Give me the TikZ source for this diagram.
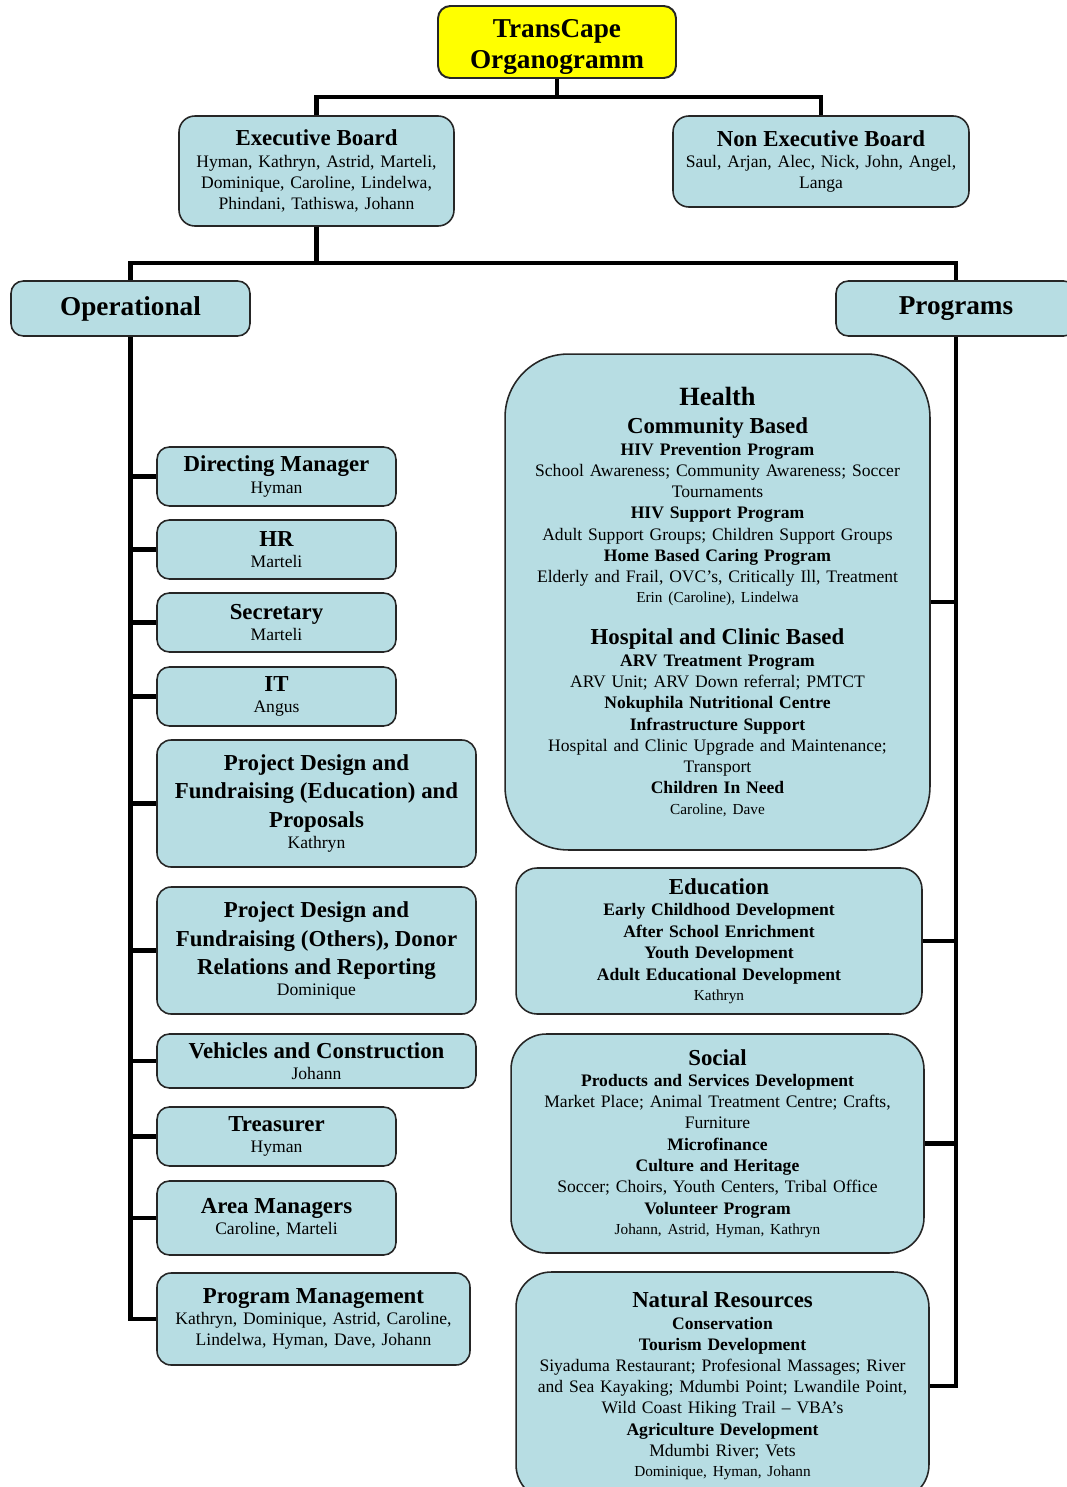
\documentclass[tikz,border=0pt]{standalone}
\usepackage{fontspec}
\setmainfont{Liberation Serif}
\usetikzlibrary{calc}
\setlength{\parindent}{0pt}
\definecolor{boxblue}{HTML}{B7DDE3}
\definecolor{titleyellow}{HTML}{FFFF00}
\newcommand{\hd}{\fontsize{13}{16}\selectfont\bfseries}
\newcommand{\bighd}{\fontsize{15.5}{18}\selectfont\bfseries}
\newcommand{\subhd}{\fontsize{10}{12.2}\selectfont\bfseries}
\newcommand{\nmtxt}{\fontsize{10}{12}\selectfont\mdseries}
\newcommand{\smtxt}{\fontsize{8.7}{11.5}\selectfont\mdseries}

\begin{document}
\begin{tikzpicture}[x=0.02cm,y=-0.02cm,
  unit/.style={draw=black!85,line width=0.9pt,fill=boxblue,rounded corners=7pt,align=center,inner sep=0pt},
  dims/.style 2 args={minimum width=#1,text width=#1,minimum height=#2},
  link/.style={line width=2.3pt}]

\useasboundingbox (0,0) rectangle (1066,1487);

\node[unit,fill=titleyellow,line width=1.1pt,dims={4.76cm}{1.44cm}] (title) at (557,42) {{\fontsize{15.5}{18}\selectfont\bfseries TransCape\\Organogramm\par}\kern -5.5pt};

\node[unit,rounded corners=9pt,dims={5.5cm}{2.2cm}] (exec) at (316.5,171) {{\hd Executive Board\par}\nmtxt Hyman, Kathryn, Astrid, Marteli,\\ Dominique, Caroline, Lindelwa,\\ Phindani, Tathiswa, Johann};
\node[unit,rounded corners=9pt,dims={5.92cm}{1.82cm}] (nonexec) at (821,161.5) {{\hd Non Executive Board\par}\nmtxt Saul, Arjan, Alec, Nick, John, Angel,\\ Langa};

\node[unit,dims={4.78cm}{1.1cm}] (oper) at (130.5,308.5) {\bighd Operational};
\node[unit,dims={4.8cm}{1.1cm}] (prog) at (956,308.5) {\bighd Programs};

% operational side
\node[unit,dims={4.78cm}{1.18cm}] (dirm) at (276.5,476.5) {{\hd Directing Manager\par}\nmtxt Hyman};
\node[unit,dims={4.78cm}{1.18cm}] (hr) at (276.5,549.5) {{\hd HR\par}\nmtxt Marteli};
\node[unit,dims={4.78cm}{1.18cm}] (secr) at (276.5,622.5) {{\hd Secretary\par}\nmtxt Marteli};
\node[unit,dims={4.78cm}{1.18cm}] (it) at (276.5,696.5) {{\hd IT\par}\nmtxt Angus};
\node[unit,rounded corners=8pt,dims={6.38cm}{2.54cm}] (pdedu) at (316.5,803.5) {{\hd Project Design and\\ Fundraising (Education) and\\ Proposals\par}\nmtxt Kathryn};
\node[unit,rounded corners=8pt,dims={6.38cm}{2.54cm}] (pdoth) at (316.5,950.5) {{\hd Project Design and\\ Fundraising (Others), Donor\\ Relations and Reporting\par}\nmtxt Dominique};
\node[unit,dims={6.38cm}{1.08cm}] (veh) at (316.5,1061) {{\hd Vehicles and Construction\par}\nmtxt Johann};
\node[unit,dims={4.78cm}{1.18cm}] (treas) at (276.5,1136.5) {{\hd Treasurer\par}\nmtxt Hyman};
\node[unit,dims={4.78cm}{1.48cm}] (area) at (276.5,1218) {{\hd Area Managers\par}\nmtxt Caroline, Marteli};
\node[unit,rounded corners=8pt,dims={6.26cm}{1.84cm}] (pm) at (313.5,1319) {{\hd Program Management\par}\nmtxt Kathryn, Dominique, Astrid, Caroline,\\ Lindelwa, Hyman, Dave, Johann};

% programs side
\node[unit,rounded corners=36pt,dims={8.5cm}{9.92cm}] (health) at (717.5,602) {%
  {\fontsize{15}{18}\selectfont\bfseries Health\par}
  {\hd Community Based\par}
  {\subhd HIV Prevention Program\par}
  {\nmtxt School Awareness; Community Awareness; Soccer\\ Tournaments\par}
  {\subhd HIV Support Program\par}
  {\nmtxt Adult Support Groups; Children Support Groups\par}
  {\subhd Home Based Caring Program\par}
  {\nmtxt Elderly and Frail, OVC’s, Critically Ill, Treatment\par}
  {\smtxt Erin (Caroline), Lindelwa\par}
  \vskip 8pt
  {\hd Hospital and Clinic Based\par}
  {\subhd ARV Treatment Program\par}
  {\nmtxt ARV Unit; ARV Down referral; PMTCT\par}
  {\subhd Nokuphila Nutritional Centre\\ Infrastructure Support\par}
  {\nmtxt Hospital and Clinic Upgrade and Maintenance;\\ Transport\par}
  {\subhd Children In Need\par}
  {\smtxt Caroline, Dave\par}};
\node[unit,rounded corners=12pt,dims={8.12cm}{2.92cm}] (edu) at (719,941) {%
  {\hd Education\par}
  {\subhd Early Childhood Development\\ After School Enrichment\\ Youth Development\\ Adult Educational Development\par}
  {\smtxt Kathryn\par}};
\node[unit,rounded corners=20pt,dims={8.26cm}{4.38cm}] (social) at (717.5,1143.5) {%
  {\hd Social\par}
  {\subhd Products and Services Development\par}
  {\nmtxt Market Place; Animal Treatment Centre; Crafts,\\ Furniture\par}
  {\subhd Microfinance\\ Culture and Heritage\par}
  {\nmtxt Soccer; Choirs, Youth Centers, Tribal Office\par}
  {\subhd Volunteer Program\par}
  {\smtxt Johann, Astrid, Hyman, Kathryn\par}};
\node[unit,rounded corners=20pt,dims={8.26cm}{4.56cm}] (natres) at (722.5,1386) {%
  {\hd Natural Resources\par}
  {\subhd Conservation\\ Tourism Development\par}
  {\nmtxt Siyaduma Restaurant; Profesional Massages; River\\ and Sea Kayaking; Mdumbi Point; Lwandile Point,\\ Wild Coast Hiking Trail -- VBA’s\par}
  {\subhd Agriculture Development\par}
  {\nmtxt Mdumbi River; Vets\par}
  {\smtxt Dominique, Hyman, Johann\par}};

\coordinate (topbus) at (557,97);
\coordinate (midbus) at (316.5,263);

\draw[link] (title) -- (topbus);
\draw[link] (exec.north) |- (topbus) -| (nonexec.north);
\draw[link] (exec) -- (midbus);
\draw[link] (oper.north) |- (midbus) -| (prog.north);
\draw[link] (oper) |- (pm);
\foreach \n in {dirm,hr,secr,it,pdedu,pdoth,veh,treas,area}
  \draw[link] (\n.west) -- (\n.west -| oper.south);
\draw[link] (prog) |- (natres);
\foreach \n in {health,edu,social}
  \draw[link] (\n.east) -- (\n.east -| prog.south);

\end{tikzpicture}
\end{document}
